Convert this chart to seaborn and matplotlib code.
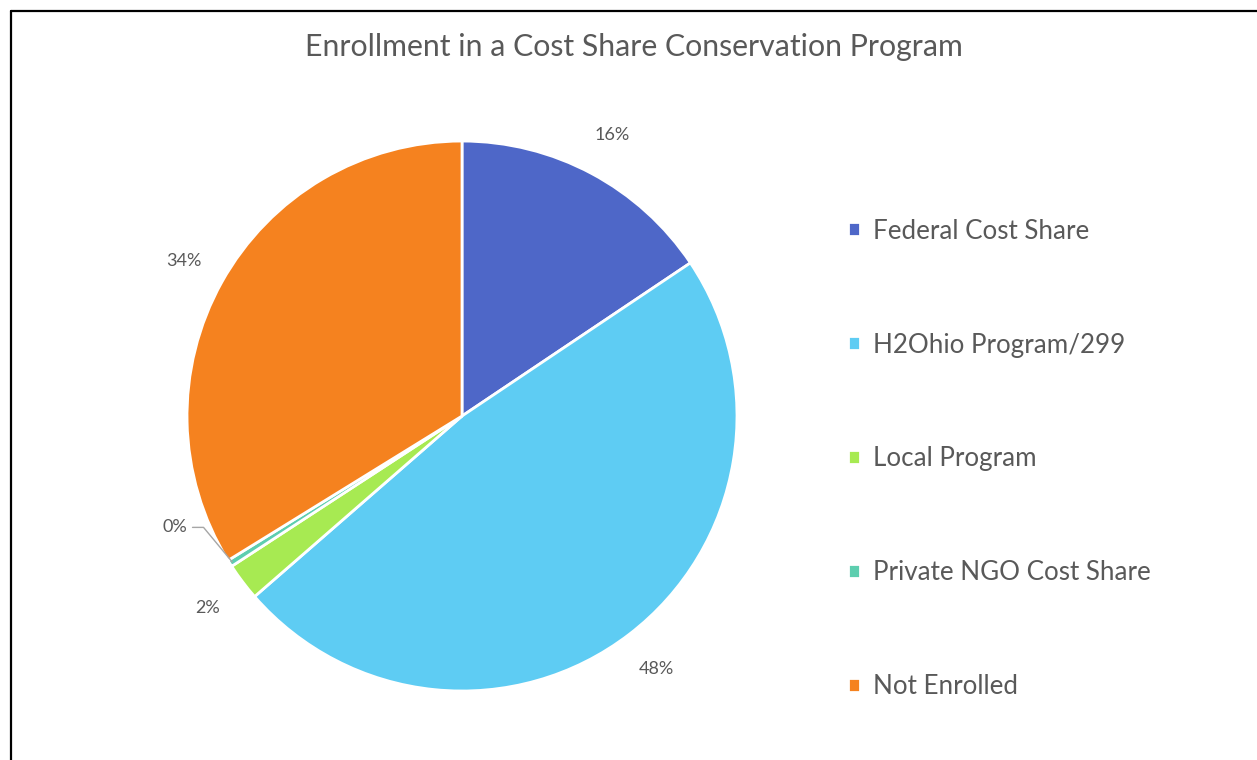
import matplotlib
matplotlib.use("Agg")
import matplotlib.pyplot as plt
import seaborn as sns
from matplotlib.lines import Line2D
import numpy as np

# data
categories = ["Federal Cost Share", "H2Ohio Program/299", "Local Program",
              "Private NGO Cost Share", "Not Enrolled"]
shares = [15.6, 48.0, 2.2, 0.4, 33.8]
colors = ["#4E67C8", "#5ECCF3", "#A7EA52", "#5DCEAF", "#F5821F"]

sns.set_theme(style="white")
plt.rcParams["font.family"] = ["Lato", "DejaVu Sans"]
txt = "#595959"

fig = plt.figure(figsize=(12.57, 7.6), dpi=100)
ax = fig.add_axes([0.0941, 0.0003, 0.5469, 0.9046])

pal = sns.color_palette(colors)
wedges, texts, autotexts = ax.pie(
    shares, colors=pal, startangle=90, counterclock=False,
    autopct="%1.0f%%", pctdistance=1.16,
    wedgeprops=dict(edgecolor="white", linewidth=2),
    textprops=dict(color=txt, fontsize=13),
)
ax.set_aspect("equal")

# small slice label moved out with a leader line
w = wedges[3]
ang = np.deg2rad((w.theta1 + w.theta2) / 2)
tip = (np.cos(ang) * 0.99, np.sin(ang) * 0.99)
autotexts[3].set_position((-1.0, -0.405))
autotexts[3].set_ha("right")
ax.plot([-0.98, -0.94, tip[0]], [-0.405, -0.405, tip[1]], color="#A6A6A6", lw=1)

fig.suptitle("Enrollment in a Cost Share Conservation Program",
             x=0.504, y=0.938, va="center", fontsize=21.8, color=txt)

fig.legend(wedges, categories, loc="upper left", bbox_to_anchor=(0.656, 0.743),
           frameon=False, fontsize=18.7, labelcolor=txt, labelspacing=3.42,
           handlelength=0.45, handleheight=0.45, handletextpad=0.5)

# frame lines on left and top like the screenshot
fig.add_artist(Line2D([0.0088, 0.0088], [0, 0.9855], color="black", lw=1.6))
fig.add_artist(Line2D([0.0088, 1.0], [0.9855, 0.9855], color="black", lw=1.6))

fig.savefig("out.png", dpi=100, facecolor="white")
